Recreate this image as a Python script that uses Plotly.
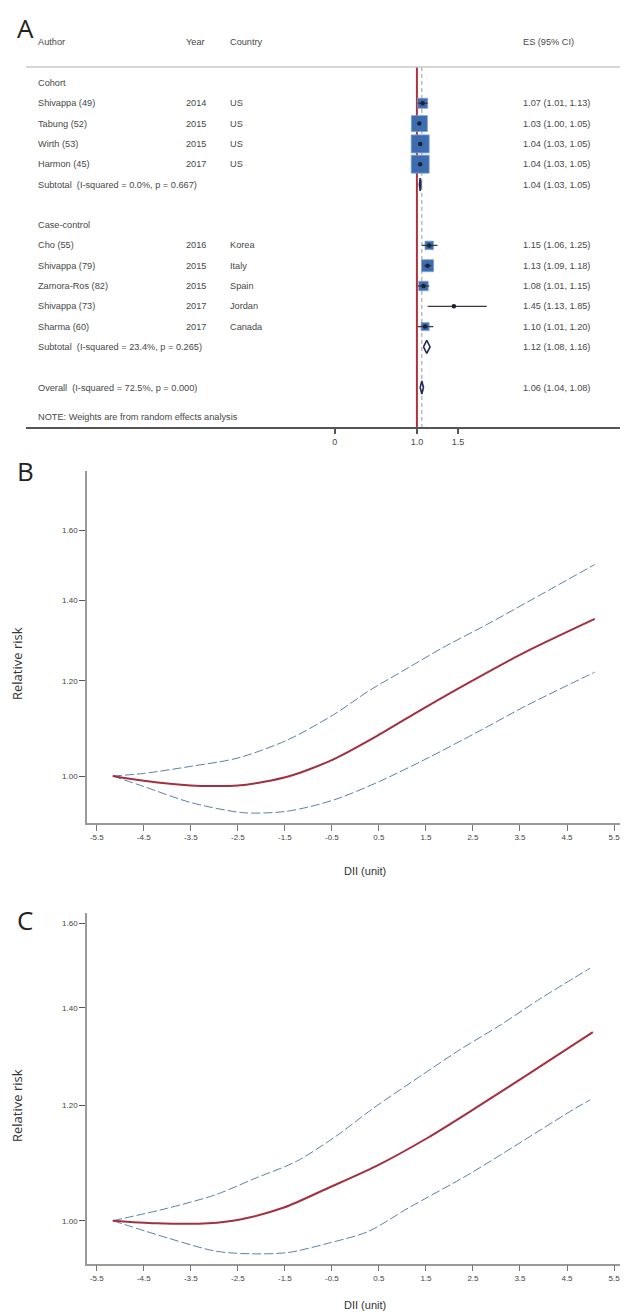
import math
import plotly.graph_objects as go

W, H = 628, 1313

# ---------------- Panel A data (forest plot) ----------------
authors = ["Shivappa (49)", "Tabung (52)", "Wirth (53)", "Harmon (45)",
           "Cho (55)", "Shivappa (79)", "Zamora-Ros (82)", "Shivappa (73)", "Sharma (60)"]
years = ["2014", "2015", "2015", "2017", "2016", "2015", "2015", "2017", "2017"]
countries = ["US", "US", "US", "US", "Korea", "Italy", "Spain", "Jordan", "Canada"]
groups = ["Cohort"] * 4 + ["Case-control"] * 5
es = [1.07, 1.03, 1.04, 1.04, 1.15, 1.13, 1.08, 1.45, 1.10]
lo = [1.01, 1.00, 1.03, 1.03, 1.06, 1.09, 1.01, 1.13, 1.01]
hi = [1.13, 1.05, 1.05, 1.05, 1.25, 1.18, 1.15, 1.85, 1.20]
weights = [7.3, 18.6, 23.5, 23.5, 5.2, 10.4, 6.5, 0.3, 4.6]

group_names = ["Cohort", "Case-control"]
subtotal_labels = ["Subtotal  (I-squared = 0.0%, p = 0.667)",
                   "Subtotal  (I-squared = 23.4%, p = 0.265)"]
subtotal_es = [1.04, 1.12]
subtotal_lo = [1.03, 1.08]
subtotal_hi = [1.05, 1.16]
overall_label = "Overall  (I-squared = 72.5%, p = 0.000)"
overall_es, overall_lo, overall_hi = 1.06, 1.04, 1.08
null_value = 1.0
note_text = "NOTE: Weights are from random effects analysis"
headers = ["Author", "Year", "Country", "ES (95% CI)"]
forest_tickvals = [0, 1.0, 1.5]
forest_ticktext = ["0", "1.0", "1.5"]

# ---------------- Panel B data ----------------
b_rr_x = [-5.16, -4.5, -3.5, -3.0, -2.5, -1.94, -1.43, -0.92, -0.41, 0.48, 1.46, 2.48, 3.58, 5.09]
b_rr_y = [1.000, 0.991, 0.982, 0.981, 0.982, 0.989, 0.999, 1.015, 1.035, 1.081, 1.139, 1.200, 1.266, 1.351]
b_up_x = [-5.16, -4.5, -3.48, -2.5, -1.43, -0.41, 0.27, 1.12, 1.85, 2.82, 3.67, 5.09]
b_up_y = [1.000, 1.005, 1.019, 1.035, 1.072, 1.128, 1.176, 1.230, 1.278, 1.338, 1.396, 1.499]
b_lo_x = [-5.16, -4.5, -3.48, -2.37, -1.52, -0.92, -0.33, 0.52, 1.54, 2.56, 3.67, 5.09]
b_lo_y = [1.000, 0.980, 0.950, 0.932, 0.934, 0.944, 0.959, 0.990, 1.035, 1.086, 1.146, 1.220]

# ---------------- Panel C data ----------------
c_rr_x = [-5.16, -4.24, -3.13, -2.45, -1.52, -0.58, 0.44, 1.54, 2.56, 3.67, 5.05]
c_rr_y = [1.000, 0.996, 0.996, 1.002, 1.021, 1.053, 1.090, 1.140, 1.195, 1.260, 1.347]
c_up_x = [-5.16, -3.99, -2.97, -2.11, -1.26, -0.41, 0.39, 1.42, 2.22, 3.08, 3.93, 4.99]
c_up_y = [1.000, 1.020, 1.042, 1.070, 1.098, 1.143, 1.195, 1.259, 1.310, 1.362, 1.420, 1.490]
c_lo_x = [-5.16, -3.99, -2.97, -2.2, -1.43, -0.58, 0.27, 1.12, 2.39, 3.67, 4.69, 4.99]
c_lo_y = [1.000, 0.973, 0.953, 0.949, 0.951, 0.965, 0.983, 1.020, 1.075, 1.140, 1.195, 1.210]

curve_xticks = [-5.5 + i for i in range(12)]
rr_ticks_b = [1.0, 1.2, 1.4, 1.6]
rr_ticktext_b = ["1.00", "1.20", "1.40", "1.60"]
rr_ticks_c = [1.0, 1.2, 1.4, 1.6]
rr_ticktext_c = ["1.00", "1.20", "1.40", "1.60"]

# ---------------- styles ----------------
TXT = "#474747"
FONT = "Liberation Sans, Arial, sans-serif"
RED = "#a3303f"
BLUE = "#5a80aa"
SQ = "#3d6db0"
NAVY = "#232c55"


def px_x(p):
    return p / W


def px_y(p):
    return 1 - p / H


fig = go.Figure()
annotations = []
shapes = []

# ---------- Panel A layout rows ----------
ROW0, ROWH = 34.4, 20.3
A_BOTTOM = 419.0
study_rows, sub_rows, group_rows = [], [], []
k = 2
for g in group_names:
    group_rows.append(k)
    k += 1
    for gg in groups:
        if gg == g:
            study_rows.append(k)
            k += 1
    sub_rows.append(k)
    k += 2
overall_row = k
note_row = overall_row + 1.45

col_x = [28, 176, 220, 513]
TFONT = dict(size=9.2, color=TXT, family=FONT)


def add_text(xpx, row, txt):
    annotations.append(dict(x=px_x(xpx), y=row, xref="paper", yref="y", text=txt,
                            showarrow=False, xanchor="left", yanchor="middle", font=TFONT))


for h, cx in zip(headers, col_x):
    add_text(cx, 0, h)
for g, r in zip(group_names, group_rows):
    add_text(col_x[0], r, g)
for i, r in enumerate(study_rows):
    vals = [authors[i], years[i], countries[i], f"{es[i]:.2f} ({lo[i]:.2f}, {hi[i]:.2f})"]
    for v, cx in zip(vals, col_x):
        add_text(cx, r, v)
for j, r in enumerate(sub_rows):
    add_text(col_x[0], r, subtotal_labels[j])
    add_text(col_x[3], r, f"{subtotal_es[j]:.2f} ({subtotal_lo[j]:.2f}, {subtotal_hi[j]:.2f})")
add_text(col_x[0], overall_row, overall_label)
add_text(col_x[3], overall_row, f"{overall_es:.2f} ({overall_lo:.2f}, {overall_hi:.2f})")
add_text(col_x[0], note_row, note_text)

line_top = 1.21
shapes.append(dict(type="line", xref="x domain", yref="y", x0=0, x1=1, y0=line_top, y1=line_top,
                   line=dict(color="#c8c8c8", width=1.5)))

a_axis_row = (A_BOTTOM - ROW0) / ROWH
fig.add_trace(go.Scatter(x=[overall_es, overall_es], y=[line_top, a_axis_row], mode="lines",
                         line=dict(color="#9a9a9a", width=1, dash="4px,3px"),
                         xaxis="x", yaxis="y", hoverinfo="skip", showlegend=False))
fig.add_trace(go.Scatter(x=[null_value, null_value], y=[line_top, a_axis_row], mode="lines",
                         line=dict(color="#b0303c", width=2),
                         xaxis="x", yaxis="y", hoverinfo="skip", showlegend=False))

sq_scale = 18 / (max(weights) ** 0.5)
fig.add_trace(go.Scatter(x=es, y=study_rows, mode="markers",
                         marker=dict(symbol="square", size=[sq_scale * w ** 0.5 for w in weights],
                                     color=SQ, opacity=1, line=dict(color="#7ea2d2", width=0.8)),
                         xaxis="x", yaxis="y", hoverinfo="skip", showlegend=False))
ci_x, ci_y = [], []
for r, a, b in zip(study_rows, lo, hi):
    ci_x += [a, b, None]
    ci_y += [r, r, None]
fig.add_trace(go.Scatter(x=ci_x, y=ci_y, mode="lines", line=dict(color="#3a3a3a", width=1.3),
                         xaxis="x", yaxis="y", hoverinfo="skip", showlegend=False))
fig.add_trace(go.Scatter(x=es, y=study_rows, mode="markers",
                         marker=dict(symbol="circle", size=4.5, color="#1b2236"),
                         xaxis="x", yaxis="y", hoverinfo="skip", showlegend=False))
dh = 6.5 / ROWH
dx, dy = [], []
for r, e, a, b in zip(sub_rows + [overall_row], subtotal_es + [overall_es],
                      subtotal_lo + [overall_lo], subtotal_hi + [overall_hi]):
    dx += [a, e, b, e, a, None]
    dy += [r, r - dh, r, r + dh, r, None]
fig.add_trace(go.Scatter(x=dx, y=dy, mode="lines", fill="toself", fillcolor="white",
                         line=dict(color=NAVY, width=1.6),
                         xaxis="x", yaxis="y", hoverinfo="skip", showlegend=False))

# ---------- Panels B and C ----------
for (xs, ys, col, wd, dash, xa, ya) in [
    (b_up_x, b_up_y, BLUE, 1, "9px,3px", "x2", "y2"),
    (b_lo_x, b_lo_y, BLUE, 1, "9px,3px", "x2", "y2"),
    (b_rr_x, b_rr_y, RED, 2, "solid", "x2", "y2"),
    (c_up_x, c_up_y, BLUE, 1, "9px,3px", "x3", "y3"),
    (c_lo_x, c_lo_y, BLUE, 1, "9px,3px", "x3", "y3"),
    (c_rr_x, c_rr_y, RED, 2, "solid", "x3", "y3"),
]:
    fig.add_trace(go.Scatter(x=xs, y=ys, mode="lines",
                             line=dict(color=col, width=wd, dash=dash, shape="spline", smoothing=0.8),
                             xaxis=xa, yaxis=ya, hoverinfo="skip", showlegend=False))

# ---------- axes ----------
fx0, fslope = 326.7, 82.2
fig.update_layout(
    xaxis=dict(domain=[px_x(18), 1], range=[(18 - fx0) / fslope, (W - fx0) / fslope],
               showline=True, linecolor="#555", linewidth=1.5, showgrid=False, zeroline=False,
               ticks="outside", ticklen=5, tickwidth=1.5, tickcolor="#555",
               tickvals=forest_tickvals, ticktext=forest_ticktext,
               tickfont=dict(size=9, color=TXT, family=FONT), anchor="y", fixedrange=True),
    yaxis=dict(domain=[px_y(A_BOTTOM), 1],
               range=[a_axis_row, (0 - ROW0) / ROWH],
               visible=False, showgrid=False, zeroline=False, fixedrange=True),
)


def curve_axes(top_px, bottom_px, one_px, px_per_ln):
    top_ln = (one_px - top_px) / px_per_ln
    bot_ln = (one_px - bottom_px) / px_per_ln
    return [px_y(bottom_px), px_y(top_px)], [bot_ln / math.log(10), top_ln / math.log(10)]


cx0, cslope = 88.8, 47.02
xrange_c = [-5.5 + (79 - cx0) / cslope, -5.5 + (614 - cx0) / cslope]
xcommon = dict(domain=[px_x(79), px_x(614)], range=xrange_c, showline=True, linecolor="#9a9a9a",
               linewidth=1.5, showgrid=False, zeroline=False, ticks="outside", ticklen=6,
               tickwidth=1, tickcolor="#777", tickvals=curve_xticks,
               ticktext=[f"{v:.1f}" for v in curve_xticks],
               tickfont=dict(size=8, color="#444", family=FONT), fixedrange=True)
ycommon = dict(type="log", showline=True, linecolor="#9a9a9a", linewidth=1.5, showgrid=False,
               zeroline=False, ticks="outside", ticklen=6, tickwidth=1, tickcolor="#555",
               tickfont=dict(size=8, color="#444", family=FONT), fixedrange=True)

dom_b, rng_b = curve_axes(463, 815, 768, 522.3)
dom_c, rng_c = curve_axes(905, 1255.7, 1212.7, 633.0)

fig.update_layout(
    xaxis2=dict(**xcommon, anchor="y2"),
    yaxis2=dict(**ycommon, domain=dom_b, range=rng_b, anchor="x2",
                tickvals=rr_ticks_b, ticktext=rr_ticktext_b),
    xaxis3=dict(**xcommon, anchor="y3"),
    yaxis3=dict(**ycommon, domain=dom_c, range=rng_c, anchor="x3",
                tickvals=rr_ticks_c, ticktext=rr_ticktext_c),
)

# axis titles and panel letters
YT_FONT = dict(size=13, color="#333", family="Open Sans, Noto Sans, sans-serif")
XT_FONT = dict(size=11, color="#333", family=FONT)
for cy in [656, 1098]:
    annotations.append(dict(x=px_x(9), y=px_y(cy), xref="paper", yref="paper", text="Relative risk",
                            showarrow=False, textangle=-90, xanchor="center", yanchor="middle",
                            font=YT_FONT))
for cy in [863, 1297]:
    annotations.append(dict(x=px_x(357), y=px_y(cy), xref="paper", yref="paper", text="DII (unit)",
                            showarrow=False, xanchor="center", yanchor="middle",
                            font=XT_FONT))
LETTER_FONT = dict(size=26, color="#222", family="Open Sans, Noto Sans, sans-serif")
annotations.append(dict(x=px_x(17), y=1, xref="paper", yref="paper", text="A",
                        showarrow=False, xanchor="center", yanchor="top", font=LETTER_FONT))
for letter, lx, ly in [("B", 17, 463), ("C", 17, 912)]:
    annotations.append(dict(x=px_x(lx), y=px_y(ly), xref="paper", yref="paper", text=letter,
                            showarrow=False, xanchor="center", yanchor="middle",
                            font=LETTER_FONT))

fig.update_layout(width=W, height=H, margin=dict(l=0, r=0, t=0, b=0),
                  paper_bgcolor="white", plot_bgcolor="white",
                  annotations=annotations, shapes=shapes, showlegend=False)

fig.write_html("out.html", config={"displayModeBar": False})
